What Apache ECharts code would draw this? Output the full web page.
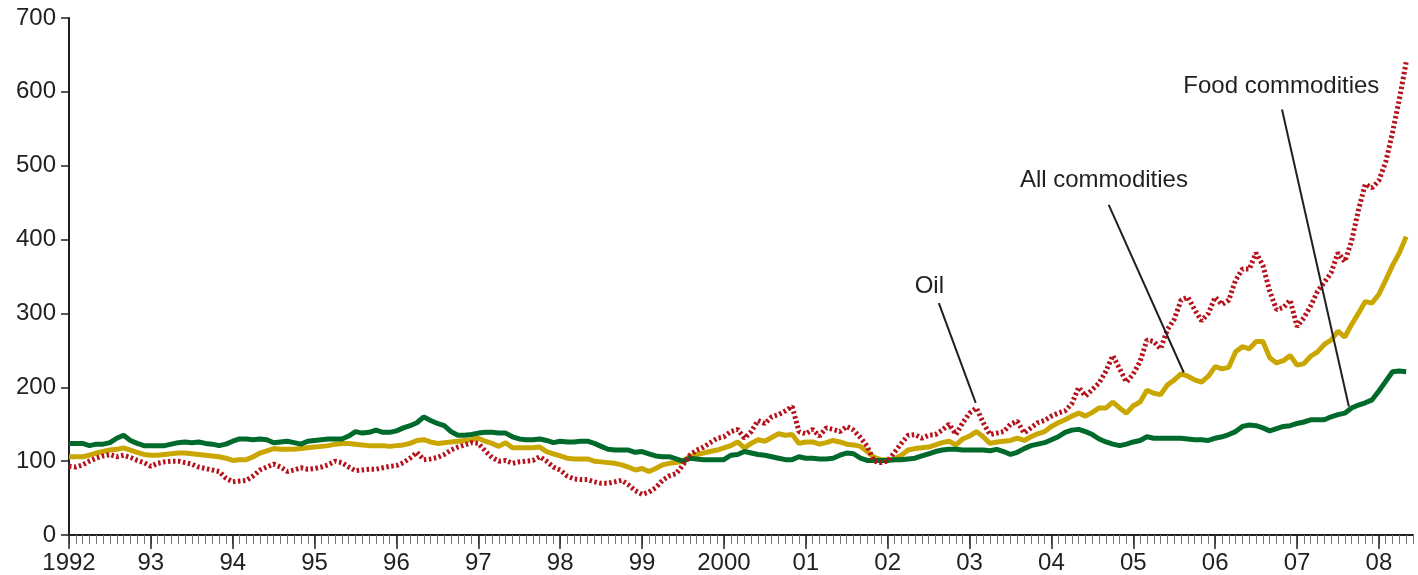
<!DOCTYPE html>
<html>
<head>
<meta charset="utf-8">
<script src="https://cdn.jsdelivr.net/npm/echarts@6/dist/echarts.min.js"></script>
<style>
html,body{margin:0;padding:0;background:#fff;}
#chart{width:1418px;height:575px;}
</style>
</head>
<body>
<div id="chart"></div>
<script>
// Year tick labels (one per January)
const yearLabels = ['1992','93','94','95','96','97','98','99','2000','01','02','03','04','05','06','07','08'];
// Monthly categories Jan 1992 .. Jun 2008
const monthCategories = [];
for (let y = 1992; y <= 2008; y++) {
  for (let m = 1; m <= 12; m++) monthCategories.push(y + '-' + (m < 10 ? '0' + m : m));
}
monthCategories.length = 198;

// Food commodities (monthly, Jan 1992 .. May 2008)
const food = [
  124,124,124,121,123,123,125,131,135,128,124,121,
  121,121,121,123,125,126,125,126,124,123,121,123,
  127,130,130,129,130,129,125,126,127,125,123,127,
  128,129,130,130,130,134,140,138,139,142,139,139,
  141,145,148,152,160,155,151,148,140,135,135,136,
  138,139,139,138,138,133,130,129,129,130,128,125,
  127,126,126,127,127,124,120,116,115,115,115,112,
  113,110,107,106,106,103,100,104,103,102,102,102,
  102,108,109,113,111,109,108,106,104,102,102,106,
  104,104,103,103,104,108,111,110,104,101,101,101,
  101,102,102,103,104,107,110,113,115,116,116,115,
  115,115,115,114,116,113,109,112,117,121,123,125,
  129,133,139,142,143,140,136,130,126,123,121,123,
  126,128,133,131,131,131,131,131,130,129,129,128,
  131,133,136,140,147,149,148,145,141,144,147,148,
  151,153,156,156,156,160,163,165,172,176,179,183,
  195,208,221,222,221
];
// All commodities
const allCommodities = [
  106,106,106,108,111,113,115,116,118,115,112,109,
  108,108,109,110,111,111,110,109,108,107,106,104,
  101,102,102,106,111,114,117,116,116,116,117,118,
  119,120,121,123,124,124,123,122,121,121,121,120,
  121,122,124,128,129,126,124,125,126,127,128,129,
  131,127,124,120,125,118,118,118,118,119,113,110,
  107,104,103,103,103,100,99,98,97,95,92,88,
  90,86,90,95,97,98,100,106,109,111,113,115,
  118,121,126,118,124,129,127,132,137,135,136,124,
  126,126,123,125,128,126,123,122,120,113,105,102,
  102,103,108,115,117,118,119,122,125,127,122,130,
  134,140,133,124,126,127,128,131,128,133,137,140,
  147,152,156,161,165,161,166,172,172,180,172,165,
  175,180,196,192,190,203,210,218,215,210,207,215,
  228,225,227,248,255,252,262,262,240,233,236,243,
  230,232,242,248,258,264,276,268,285,300,316,314,
  326,345,365,382,404
];
// Oil
const oil = [
  93,92,95,100,104,107,109,106,108,105,101,98,
  93,97,99,100,100,98,96,92,90,88,86,77,
  72,73,74,80,88,92,96,92,86,88,91,89,
  90,92,95,100,98,92,87,88,89,89,91,93,
  94,98,104,112,102,103,105,109,115,119,122,125,
  124,114,105,100,101,97,99,100,101,106,100,92,
  88,80,76,75,75,72,70,70,72,74,68,60,
  55,58,64,74,80,83,95,108,115,119,125,131,
  133,140,143,131,140,155,151,160,163,168,174,140,
  137,143,134,145,143,140,147,142,132,120,100,98,
  100,112,124,135,136,131,135,136,142,150,136,152,
  165,172,152,136,138,140,150,154,138,145,152,155,
  161,165,168,178,200,188,197,206,222,243,225,207,
  218,235,264,262,252,278,292,318,322,305,290,300,
  322,312,318,345,360,360,382,365,330,305,308,318,
  282,294,310,330,342,355,382,370,398,440,475,470,
  480,505,545,590,640
];
// Annotations: label, label anchor [month index, value], leader line from/to
const annotationNames = ['Oil', 'All commodities', 'Food commodities'];
const annotationAnchors = [[126.1, 337], [151.7, 480], [177.7, 608]];
const leaderFrom = [[127.5, 314], [152.4, 447], [177.8, 576]];
const leaderTo = [[132.9, 179], [163.4, 220], [187.6, 174]];

const ink = '#231f20';
const FONT = 'Liberation Sans';

function pairs(arr) { return arr.map((v, i) => [i, v]); }
function annot(k) {
  return {
    markLine: {
      silent: true, symbol: 'none', animation: false,
      label: {show: false},
      lineStyle: {color: ink, width: 2, type: 'solid'},
      data: [[{coord: leaderFrom[k]}, {coord: leaderTo[k]}]]
    },
    markPoint: {
      silent: true, symbol: 'circle', symbolSize: 0, animation: false,
      label: {show: true, position: 'inside', formatter: annotationNames[k],
              color: ink, fontSize: 24, fontFamily: FONT},
      data: [{coord: annotationAnchors[k]}]
    }
  };
}

const chart = echarts.init(document.getElementById('chart'));
chart.setOption({
  animation: false,
  backgroundColor: '#fff',
  grid: {left: 69, right: 5, top: 18, bottom: 39, containLabel: false},
  xAxis: [
    {type: 'value', min: 0, max: 197, show: false},
    {type: 'category', data: monthCategories, boundaryGap: false, position: 'bottom',
     axisLine: {show: true, lineStyle: {color: ink, width: 2}},
     axisTick: {show: true, interval: 0, length: 9, lineStyle: {color: '#777', width: 1}},
     axisLabel: {show: false}, splitLine: {show: false}},
    {type: 'category', data: monthCategories, boundaryGap: false, position: 'bottom',
     axisLine: {show: false},
     axisTick: {show: true, interval: 11, length: 14, lineStyle: {color: ink, width: 1.5}},
     axisLabel: {show: true, interval: 11, margin: 16, color: ink, fontSize: 24, fontFamily: FONT,
       formatter: (v, i) => yearLabels[Math.round(i / 12)]},
     splitLine: {show: false}}
  ],
  yAxis: {
    type: 'value', min: 0, max: 700, interval: 100,
    axisLine: {show: true, lineStyle: {color: ink, width: 2}},
    axisTick: {show: true, length: 8, lineStyle: {color: ink, width: 1.5}},
    axisLabel: {color: ink, fontSize: 24, fontFamily: FONT, margin: 13},
    splitLine: {show: false}
  },
  series: [
    Object.assign({type: 'line', name: 'All commodities', data: pairs(allCommodities), xAxisIndex: 0,
      showSymbol: false, lineStyle: {color: '#c9a700', width: 5}, z: 2}, annot(1)),
    Object.assign({type: 'line', name: 'Food commodities', data: pairs(food), xAxisIndex: 0,
      showSymbol: false, lineStyle: {color: '#006a2c', width: 5}, z: 3}, annot(2)),
    Object.assign({type: 'line', name: 'Oil', data: pairs(oil), xAxisIndex: 0,
      showSymbol: false, lineStyle: {color: '#b5121b', width: 5, type: [2.5, 2.5]}, z: 4}, annot(0))
  ]
});
</script>
</body>
</html>
